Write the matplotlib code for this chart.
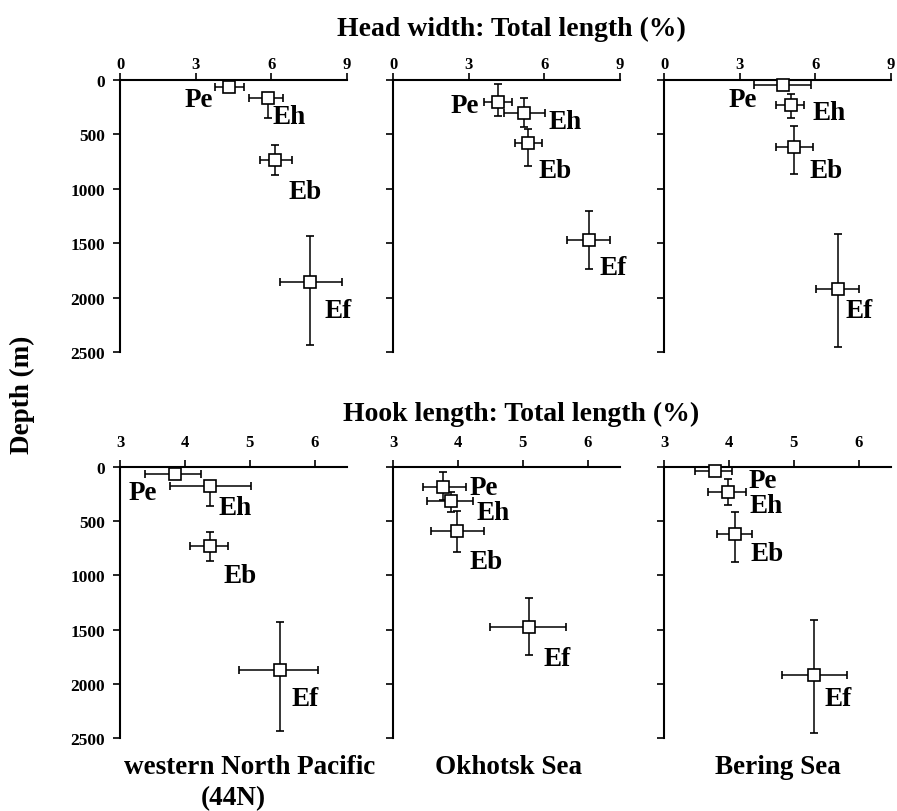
import numpy as np
import matplotlib.pyplot as plt

plt.rcParams['font.family'] = 'Liberation Serif'
plt.rcParams['font.weight'] = 'bold'

groups = ['Pe', 'Eh', 'Eb', 'Ef']
sites = ['western North Pacific', 'Okhotsk Sea', 'Bering Sea']

# head width : total length (%) -- one row per site, groups in order Pe, Eh, Eb, Ef
hw_mean = [[4.33, 5.86, 6.16, 7.55], [4.17, 5.21, 5.35, 7.77], [4.70, 5.03, 5.16, 6.91]]
hw_lo = [[3.76, 5.12, 5.54, 6.33], [3.60, 4.39, 4.83, 6.91], [3.58, 4.43, 4.43, 6.01]]
hw_hi = [[4.92, 6.48, 6.83, 8.81], [4.72, 6.03, 5.89, 8.60], [5.84, 5.55, 5.91, 7.72]]
hw_depth = [[67, 165, 731, 1857], [199, 306, 579, 1466], [46, 230, 612, 1919]]
hw_depth_lo = [[67, 165, 597, 1435], [37, 165, 450, 1206], [46, 128, 419, 1414]]
hw_depth_hi = [[67, 352, 869, 2439], [328, 432, 790, 1735], [46, 349, 863, 2454]]

# hook length : total length (%)
hl_mean = [[3.85, 4.39, 4.39, 5.46], [3.77, 3.89, 3.98, 5.09], [3.78, 3.98, 4.09, 5.32]]
hl_lo = [[3.39, 3.77, 4.08, 4.84], [3.46, 3.53, 3.59, 4.50], [3.48, 3.68, 3.82, 4.82]]
hl_hi = [[4.25, 5.02, 4.67, 6.06], [4.13, 4.24, 4.40, 5.67], [4.05, 4.27, 4.36, 5.82]]
hl_depth = [[61, 175, 727, 1877], [187, 311, 587, 1478], [37, 227, 620, 1923]]
hl_depth_lo = [[61, 175, 598, 1432], [49, 230, 403, 1208], [37, 113, 414, 1411]]
hl_depth_hi = [[61, 359, 865, 2438], [300, 415, 784, 1733], [37, 350, 874, 2451]]

# where the group names sit (x value, depth) in each panel
hw_label_pos = [[(3.13, 175), (6.71, 340), (7.34, 1029), (8.65, 2123)],
                [(2.86, 230), (6.83, 386), (6.43, 836), (8.73, 1719)],
                [(3.13, 175), (6.54, 297), (6.43, 833), (7.75, 2120)]]
hl_label_pos = [[(3.35, 233), (4.77, 372), (4.85, 1002), (5.85, 2139)],
                [(4.40, 187), (4.55, 418), (4.43, 873), (5.53, 1770)],
                [(4.52, 126), (4.57, 357), (4.59, 802), (5.68, 2139)]]

W, H = 897, 812
fig = plt.figure(figsize=(W / 100, H / 100), dpi=100)

lefts = [120, 393, 664]
pw = 227
rows = [(81, 353), (468, 739)]
site_x = [250, 508, 778]


def panel(ax, mean, lo, hi, dep, dlo, dhi, lpos, xlim, xticks, pad, ylabels):
    mean, lo, hi = np.array(mean), np.array(lo), np.array(hi)
    dep, dlo, dhi = np.array(dep), np.array(dlo), np.array(dhi)
    ax.errorbar(mean, dep, xerr=[mean - lo, hi - mean], yerr=[dep - dlo, dhi - dep],
                fmt='s', mfc='white', mec='black', ms=8, mew=1.2,
                ecolor='black', elinewidth=1.1, capsize=2.6, capthick=1.1,
                clip_on=False, zorder=3)
    for g, (tx, ty) in zip(groups, lpos):
        ax.text(tx, ty, g, fontsize=19.5, ha='center', va='center')
    ax.set_xlim(*xlim)
    ax.set_ylim(2500, 0)
    ax.set_xticks(xticks)
    ax.set_yticks(np.arange(0, 2501, 500))
    if not ylabels:
        ax.set_yticklabels([])
    ax.xaxis.tick_top()
    for s in ['right', 'bottom']:
        ax.spines[s].set_visible(False)
    for s in ['top', 'left']:
        ax.spines[s].set_linewidth(1.5)
    ax.tick_params(direction='out', length=5, width=1.2, labelsize=12)
    ax.tick_params(axis='y', pad=6, labelsize=12.5)
    ax.tick_params(axis='x', pad=pad)
    ax.patch.set_alpha(0)


for i in range(3):
    top, bot = rows[0]
    ax = fig.add_axes([lefts[i] / W, 1 - bot / H, pw / W, (bot - top) / H])
    panel(ax, hw_mean[i], hw_lo[i], hw_hi[i], hw_depth[i], hw_depth_lo[i], hw_depth_hi[i],
          hw_label_pos[i], (0, 9), [0, 3, 6, 9], 1, i == 0)

    top, bot = rows[1]
    ax = fig.add_axes([lefts[i] / W, 1 - bot / H, pw / W, (bot - top) / H])
    panel(ax, hl_mean[i], hl_lo[i], hl_hi[i], hl_depth[i], hl_depth_lo[i], hl_depth_hi[i],
          hl_label_pos[i], (3, 6.5), [3, 4, 5, 6], 7, i == 0)

    fig.text(site_x[i] / W, 1 - 768 / H, sites[i], fontsize=19.5,
             ha='center', va='center')

fig.text(233 / W, 1 - 799 / H, '(44N)', fontsize=19.5, ha='center', va='center')
fig.text(511 / W, 1 - 29 / H, 'Head width: Total length (%)', fontsize=20,
         ha='center', va='center')
fig.text(521 / W, 1 - 414 / H, 'Hook length: Total length (%)', fontsize=20,
         ha='center', va='center')
fig.text(22 / W, 1 - 395 / H, 'Depth (m)', fontsize=19.5, rotation=90,
         ha='center', va='center')

fig.savefig('out.png', dpi=100)
